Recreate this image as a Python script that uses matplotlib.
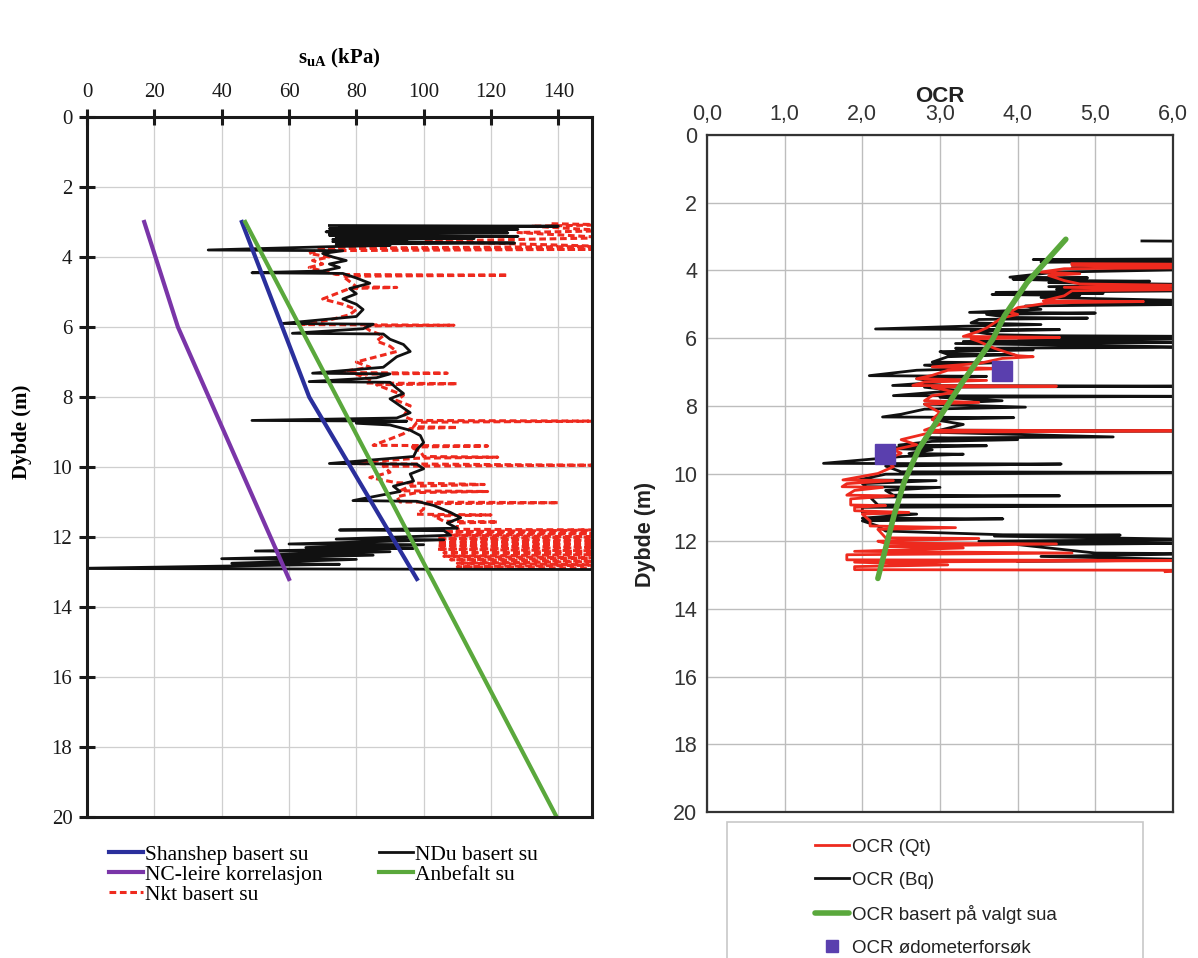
import matplotlib
matplotlib.use("Agg")
import matplotlib.pyplot as plt
from matplotlib.patches import Rectangle
from matplotlib.lines import Line2D

# ---------------- Left chart data (s_uA vs depth) ----------------
su_ticks = [0, 20, 40, 60, 80, 100, 120, 140]
depth_ticks = [0, 2, 4, 6, 8, 10, 12, 14, 16, 18, 20]

shansep_depth = [3.0, 6.0, 8.0, 13.2]
shansep_su = [46, 58, 66, 98]

nc_depth = [3.0, 6.0, 13.2]
nc_su = [17, 27, 60]

anbefalt_depth = [3.0, 20.0]
anbefalt_su = [47, 139.5]

# NDu based su (depth, su) - profile with spikes
ndu_profile = [
    (3.10, 72), (3.12, 140), (3.14, 75), (3.17, 110), (3.19, 72), (3.21, 128),
    (3.23, 73), (3.26, 118), (3.28, 71), (3.31, 125), (3.33, 72), (3.36, 100),
    (3.38, 72), (3.41, 128), (3.44, 74), (3.47, 115), (3.50, 73), (3.53, 95),
    (3.56, 73), (3.60, 127), (3.63, 74), (3.67, 90), (3.70, 74), (3.80, 36),
    (3.82, 76), (3.90, 70), (4.00, 73), (4.10, 77), (4.20, 72), (4.30, 75),
    (4.40, 70), (4.45, 49), (4.47, 76), (4.60, 80), (4.75, 84), (4.90, 78),
    (5.05, 80), (5.20, 76), (5.35, 80), (5.50, 82), (5.70, 80), (5.90, 58),
    (5.92, 85), (6.05, 82), (6.18, 61), (6.20, 88), (6.35, 90), (6.50, 94),
    (6.70, 96), (6.85, 92), (7.00, 90), (7.15, 88), (7.32, 67), (7.34, 90),
    (7.45, 86), (7.56, 66), (7.58, 90), (7.75, 92), (7.90, 94), (8.05, 90),
    (8.25, 93), (8.45, 96), (8.60, 92), (8.67, 49), (8.69, 95), (8.75, 80),
    (8.80, 90), (8.95, 96), (9.10, 99), (9.30, 100), (9.50, 98), (9.70, 97),
    (9.90, 72), (9.92, 98), (10.05, 100), (10.20, 96), (10.40, 97), (10.55, 91),
    (10.70, 93), (10.96, 79), (10.98, 98), (11.10, 103), (11.30, 108), (11.45, 111),
    (11.60, 107), (11.75, 110), (11.80, 75), (11.82, 106), (11.95, 108), (12.06, 74),
    (12.08, 106), (12.20, 60), (12.22, 100), (12.30, 65), (12.32, 97), (12.40, 50),
    (12.42, 90), (12.50, 57), (12.52, 85), (12.62, 40), (12.64, 80), (12.75, 43),
    (12.78, 75), (12.90, -5), (12.93, 155), (12.96, 155),
]

# Nkt based su (depth, su) - dashed profile with spikes
nkt_profile = [
    (3.05, 138), (3.08, 155), (3.12, 132), (3.25, 155), (3.30, 128), (3.45, 155),
    (3.55, 100), (3.70, 155), (3.75, 68), (3.78, 150), (3.82, 68), (3.90, 66),
    (4.00, 72), (4.10, 67), (4.20, 70), (4.30, 66), (4.40, 70), (4.50, 74),
    (4.52, 125), (4.55, 76), (4.70, 78), (4.85, 80), (4.87, 92), (4.90, 78),
    (5.05, 74), (5.20, 70), (5.35, 76), (5.50, 80), (5.65, 78), (5.80, 72),
    (5.93, 64), (5.95, 109), (5.97, 82), (6.10, 84), (6.25, 88), (6.40, 86),
    (6.55, 90), (6.70, 92), (6.85, 86), (7.00, 80), (7.15, 84), (7.30, 74),
    (7.32, 107), (7.35, 80), (7.50, 84), (7.60, 83), (7.62, 110), (7.65, 86),
    (7.80, 90), (7.95, 94), (8.10, 92), (8.25, 96), (8.40, 95), (8.55, 94),
    (8.67, 97), (8.69, 155), (8.72, 98), (8.85, 97), (8.87, 110), (8.90, 96),
    (9.05, 94), (9.20, 90), (9.38, 85), (9.40, 119), (9.43, 96), (9.55, 99),
    (9.70, 100), (9.72, 122), (9.75, 98), (9.90, 76), (9.95, 150), (9.98, 88),
    (10.15, 90), (10.30, 84), (10.45, 92), (10.50, 118), (10.55, 96), (10.68, 93),
    (10.70, 119), (10.73, 98), (10.85, 92), (11.00, 93), (11.02, 140), (11.05, 100),
    (11.20, 100), (11.35, 98), (11.37, 120), (11.40, 103), (11.55, 106), (11.57, 122),
    (11.60, 110), (11.78, 110), (11.80, 155), (11.85, 106), (11.90, 155), (11.95, 108),
    (12.00, 155), (12.05, 104), (12.10, 155), (12.15, 104), (12.20, 155), (12.25, 104),
    (12.30, 155), (12.35, 104), (12.40, 155), (12.45, 106), (12.50, 155), (12.55, 106),
    (12.60, 155), (12.65, 108), (12.70, 155), (12.75, 110), (12.80, 155), (12.85, 110),
    (12.90, 155),
]

# ---------------- Right chart data (OCR vs depth) ----------------
ocr_ticks = [0, 1, 2, 3, 4, 5, 6]
ocr_tick_labels = ["0,0", "1,0", "2,0", "3,0", "4,0", "5,0", "6,0"]

ocr_bq_profile = [
    (3.13, 5.6), (3.14, 6.4), (3.66, 6.4), (3.68, 4.2), (3.70, 6.4), (3.75, 4.3),
    (3.77, 6.4), (3.82, 4.7), (3.85, 6.4), (3.92, 4.7), (3.97, 6.4), (4.05, 4.5),
    (4.10, 4.3), (4.20, 3.9), (4.22, 4.9), (4.26, 3.94), (4.30, 4.6), (4.32, 5.7),
    (4.36, 4.4), (4.42, 6.4), (4.48, 4.4), (4.52, 6.4), (4.56, 4.5), (4.60, 6.4),
    (4.65, 3.72), (4.68, 5.1), (4.71, 3.67), (4.74, 4.8), (4.80, 4.3), (4.90, 6.4),
    (4.95, 4.5), (5.00, 6.4), (5.05, 4.1), (5.15, 4.3), (5.24, 3.38), (5.26, 5.0),
    (5.30, 3.6), (5.39, 3.9), (5.41, 4.9), (5.45, 3.5), (5.55, 3.4), (5.60, 4.3),
    (5.65, 3.3), (5.73, 2.17), (5.75, 4.54), (5.80, 3.4), (5.90, 3.7), (5.93, 4.4),
    (5.95, 6.4), (5.99, 4.0), (6.02, 6.4), (6.10, 3.3), (6.13, 6.4), (6.16, 3.2),
    (6.27, 6.4), (6.30, 3.2), (6.35, 4.2), (6.40, 3.0), (6.47, 3.09), (6.49, 3.95),
    (6.55, 3.1), (6.71, 2.9), (6.73, 3.7), (6.80, 2.8), (6.90, 3.4), (6.95, 2.7),
    (7.11, 2.09), (7.13, 3.6), (7.20, 2.7), (7.30, 3.0), (7.40, 2.39), (7.42, 6.4),
    (7.45, 2.8), (7.55, 3.2), (7.70, 2.4), (7.72, 6.4), (7.75, 3.0), (7.85, 3.8),
    (7.95, 2.8), (8.04, 4.1), (8.10, 2.8), (8.25, 2.5), (8.33, 2.26), (8.35, 3.95),
    (8.40, 2.9), (8.55, 3.3), (8.72, 3.0), (8.74, 6.4), (8.78, 2.9), (8.92, 5.23),
    (8.95, 2.8), (9.00, 4.0), (9.05, 2.9), (9.16, 2.47), (9.18, 3.6), (9.25, 2.2),
    (9.30, 2.9), (9.41, 2.6), (9.43, 3.3), (9.50, 2.5), (9.70, 1.5), (9.72, 4.56),
    (9.78, 2.3), (9.95, 2.5), (9.97, 6.4), (10.02, 2.3), (10.19, 1.95), (10.21, 2.95),
    (10.30, 2.0), (10.39, 2.05), (10.41, 3.0), (10.50, 2.3), (10.64, 2.4), (10.66, 4.54),
    (10.70, 2.1), (10.93, 2.2), (10.95, 6.4), (11.00, 2.0), (11.15, 2.0), (11.20, 2.7),
    (11.32, 2.0), (11.34, 3.81), (11.40, 2.0), (11.55, 2.2), (11.70, 2.3), (11.81, 3.81),
    (11.82, 5.32), (11.85, 3.7), (11.95, 6.4), (12.00, 3.5), (12.06, 6.4), (12.10, 4.0),
    (12.35, 5.0), (12.37, 6.4), (12.45, 4.3), (12.55, 6.4), (12.60, 4.0),
]

ocr_qt_profile = [
    (3.80, 4.7), (3.82, 6.4), (3.85, 4.7), (3.92, 6.4), (3.95, 4.6), (4.05, 4.3),
    (4.10, 4.8), (4.15, 4.4), (4.30, 4.6), (4.40, 4.8), (4.45, 6.4), (4.50, 4.6),
    (4.56, 6.4), (4.60, 4.7), (4.75, 4.6), (4.90, 4.33), (4.92, 5.62), (4.96, 4.4),
    (5.10, 4.0), (5.24, 3.9), (5.30, 4.0), (5.40, 3.8), (5.55, 3.7), (5.70, 3.6),
    (5.80, 3.5), (5.95, 3.3), (5.98, 4.54), (6.02, 3.4), (6.10, 3.5), (6.30, 3.7),
    (6.45, 3.9), (6.52, 4.0), (6.55, 4.2), (6.60, 3.8), (6.75, 3.5), (6.85, 2.9),
    (6.90, 3.8), (6.95, 3.1), (7.10, 2.9), (7.20, 2.7), (7.25, 3.6), (7.30, 2.8),
    (7.40, 2.65), (7.42, 4.5), (7.45, 2.9), (7.60, 3.2), (7.70, 2.9), (7.85, 2.8),
    (7.90, 3.5), (7.95, 2.8), (8.20, 3.0), (8.40, 2.9), (8.55, 3.0), (8.72, 2.8),
    (8.74, 6.4), (8.78, 2.9), (9.00, 2.5), (9.15, 2.7), (9.30, 2.4), (9.40, 2.5),
    (9.60, 2.3), (9.80, 2.4), (10.00, 2.2), (10.19, 1.75), (10.21, 2.4), (10.30, 1.8),
    (10.39, 1.74), (10.41, 2.26), (10.50, 1.9), (10.64, 1.8), (10.66, 2.4), (10.75, 1.85),
    (10.93, 1.85), (10.95, 2.3), (11.00, 1.9), (11.10, 1.9), (11.15, 2.6), (11.20, 2.0),
    (11.40, 2.1), (11.55, 2.1), (11.60, 3.2), (11.65, 2.2), (11.90, 2.3), (11.92, 3.5),
    (12.00, 2.2), (12.06, 2.3), (12.08, 4.5), (12.15, 2.3), (12.20, 3.3), (12.30, 1.9),
    (12.35, 4.7), (12.40, 1.8), (12.55, 1.8), (12.57, 6.4), (12.62, 1.9), (12.70, 3.1),
    (12.75, 1.9), (12.84, 1.9), (12.86, 6.4), (12.90, 5.9),
]

ocr_valgt_depth = [3.08, 4.36, 5.34, 6.03, 7.30, 8.04, 9.26, 10.24, 11.22, 13.10]
ocr_valgt = [4.62, 4.12, 3.83, 3.68, 3.29, 3.08, 2.73, 2.54, 2.41, 2.20]

odo_depth = [6.97, 9.41]
odo_ocr = [3.80, 2.29]

# ---------------- Styling ----------------
W, H = 1198, 958
plt.rcParams["mathtext.fontset"] = "custom"
plt.rcParams["mathtext.rm"] = "Liberation Serif:bold"
plt.rcParams["mathtext.it"] = "Liberation Serif:bold"
plt.rcParams["mathtext.bf"] = "Liberation Serif:bold"

fig = plt.figure(figsize=(W / 100, H / 100), dpi=100)
fig.patch.set_facecolor("white")


def fax(l, t, r, b):
    return [l / W, 1 - b / H, (r - l) / W, (b - t) / H]


SERIF = "Liberation Serif"
SANS = "Liberation Sans"

C_BLUE = "#2a2f9c"
C_PURPLE = "#7a35a8"
C_GREEN = "#5aa83c"
C_RED = "#ee2a1e"
C_BLACK = "#111111"
C_SQ = "#5a3fae"

# ---------- Left axes ----------
ax1 = fig.add_axes(fax(87, 117, 592, 817))
ax1.set_xlim(0, 150)
ax1.set_ylim(20, 0)
ax1.set_xticks(su_ticks)
ax1.set_yticks(depth_ticks)
ax1.xaxis.tick_top()
ax1.xaxis.set_label_position("top")
ax1.grid(True, color="#cfcfcf", lw=0.9)
ax1.set_axisbelow(True)
for s in ax1.spines.values():
    s.set_linewidth(2.2)
    s.set_color("#1a1a1a")
ax1.tick_params(axis="both", direction="inout", length=11, width=2.2,
                labelsize=15, colors="#1a1a1a", pad=5)
for lab in ax1.get_xticklabels() + ax1.get_yticklabels():
    lab.set_fontfamily(SERIF)
ax1.set_xlabel(r"$\mathrm{s_{uA}}$" + " (kPa)", fontfamily=SERIF,
               fontweight="bold", fontsize=15, labelpad=14)
ax1.set_ylabel("Dybde (m)", fontfamily=SERIF, fontweight="bold", fontsize=15)
ax1.yaxis.set_label_coords(-0.108, 0.55)

nkt_d = [p[0] for p in nkt_profile]
nkt_v = [p[1] for p in nkt_profile]
ndu_d = [p[0] for p in ndu_profile]
ndu_v = [p[1] for p in ndu_profile]

l_nkt, = ax1.plot(nkt_v, nkt_d, color=C_RED, lw=2.2, ls=(0, (2.2, 1.2)),
                  label="Nkt basert su")
l_ndu, = ax1.plot(ndu_v, ndu_d, color=C_BLACK, lw=2.0, label="NDu basert su")
l_nc, = ax1.plot(nc_su, nc_depth, color=C_PURPLE, lw=3, label="NC-leire korrelasjon")
l_sh, = ax1.plot(shansep_su, shansep_depth, color=C_BLUE, lw=3,
                 label="Shanshep basert su")
l_an, = ax1.plot(anbefalt_su, anbefalt_depth, color=C_GREEN, lw=3,
                 label="Anbefalt su")

leg1 = fig.legend(
    [l_sh, l_nc, l_nkt, l_ndu, l_an],
    ["Shanshep basert su", "NC-leire korrelasjon", "Nkt basert su",
     "NDu basert su", "Anbefalt su"],
    ncol=2, loc="upper left", bbox_to_anchor=(98 / W, 1 - 834 / H),
    frameon=False, prop={"family": SERIF, "size": 15.5},
    handlelength=1.6, handletextpad=0.1, columnspacing=2.6,
    labelspacing=0.0, borderpad=0.0,
)

# ---------- Right axes ----------
ax2 = fig.add_axes(fax(707, 135, 1173, 812))
ax2.set_xlim(0, 6)
ax2.set_ylim(20, 0)
ax2.set_xticks(ocr_ticks)
ax2.set_xticklabels(ocr_tick_labels)
ax2.set_yticks(depth_ticks)
ax2.xaxis.tick_top()
ax2.xaxis.set_label_position("top")
ax2.grid(True, color="#bdbdbd", lw=1.0)
ax2.set_axisbelow(True)
for s in ax2.spines.values():
    s.set_linewidth(1.6)
    s.set_color("#333333")
ax2.tick_params(axis="both", length=0, labelsize=15.5, colors="#333333", pad=7)
for lab in ax2.get_xticklabels() + ax2.get_yticklabels():
    lab.set_fontfamily(SANS)
ax2.set_xlabel("OCR", fontfamily=SANS, fontweight="bold", fontsize=16,
               labelpad=2, color="#222222")
ax2.set_ylabel("Dybde (m)", fontfamily=SANS, fontweight="bold", fontsize=15.5,
               color="#222222")
ax2.yaxis.set_label_coords(-0.11, 0.41)

bq_d = [p[0] for p in ocr_bq_profile]
bq_v = [p[1] for p in ocr_bq_profile]
qt_d = [p[0] for p in ocr_qt_profile]
qt_v = [p[1] for p in ocr_qt_profile]

l_bq, = ax2.plot(bq_v, bq_d, color=C_BLACK, lw=2.0, label="OCR (Bq)")
l_qt, = ax2.plot(qt_v, qt_d, color=C_RED, lw=2.0, label="OCR (Qt)")
l_va, = ax2.plot(ocr_valgt, ocr_valgt_depth, color=C_GREEN, lw=4,
                 solid_capstyle="round", label="OCR basert på valgt sua")
l_od, = ax2.plot(odo_ocr, odo_depth, ls="none", marker="s", ms=15,
                 color=C_SQ, label="OCR ødometerforsøk")

fig.patches.append(Rectangle((727 / W, 1 - 980 / H), (1143 - 727) / W,
                             (980 - 822) / H, transform=fig.transFigure,
                             fill=False, edgecolor="#c8c8c8", lw=1.2))
h_od = Line2D([], [], ls="none", marker="s", ms=9, color=C_SQ)
leg2 = fig.legend(
    [l_qt, l_bq, l_va, h_od],
    ["OCR (Qt)", "OCR (Bq)", "OCR basert på valgt sua", "OCR ødometerforsøk"],
    loc="upper left", bbox_to_anchor=(806 / W, 1 - 829 / H),
    frameon=False, prop={"family": SANS, "size": 13.5},
    handlelength=1.8, handletextpad=0.15, labelspacing=0.85, borderpad=0.0,
    labelcolor="#222222",
)
leg2.get_lines()[2].set_linewidth(4)

fig.savefig("out.png", dpi=100, facecolor="white")
